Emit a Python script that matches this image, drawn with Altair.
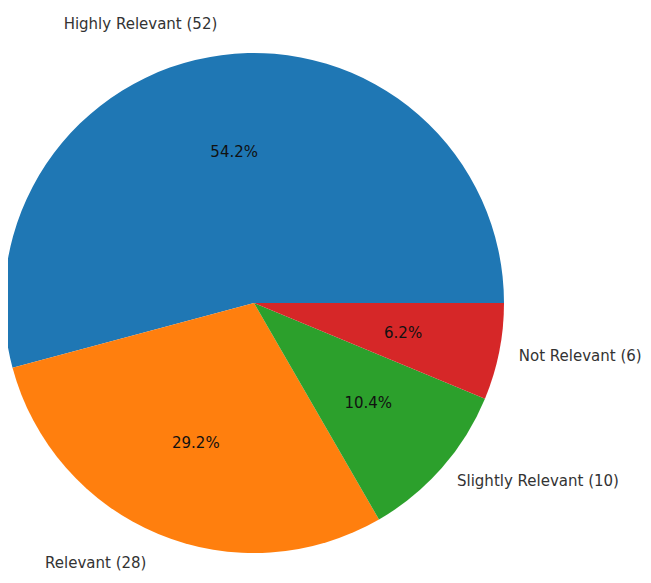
import math
import altair as alt
import pandas as pd

categories = ["Highly Relevant", "Relevant", "Slightly Relevant", "Not Relevant"]
counts = [52, 28, 10, 6]
colors = ["#1f77b4", "#ff7f0e", "#2ca02c", "#d62728"]
sides = ["left", "left", "right", "right"]
stack_order = [4, 3, 2, 1]

total = sum(counts)
pct_labels = [f"{c / total * 100:.1f}%" for c in counts]
name_labels = [f"{n} ({c})" for n, c in zip(categories, counts)]

df = pd.DataFrame({"category": categories, "count": counts,
                   "side": sides, "ord": stack_order,
                   "pct": pct_labels, "label": name_labels})

theta_scale = alt.Scale(range=[math.pi / 2, math.pi / 2 + 2 * math.pi])
color_scale = alt.Scale(domain=categories, range=colors)

CX, CY = 246, 295
R = 250
FONT = "DejaVu Sans"
FS = 15

base = alt.Chart(df).transform_calculate(
    labelL="datum.side == 'left' ? datum.label : ''",
    labelR="datum.side == 'right' ? datum.label : ''",
)

theta = alt.Theta("count:Q", stack=True, scale=theta_scale)
order = alt.Order("ord:Q", sort="ascending")

arcs = base.mark_arc(outerRadius=R).encode(
    theta=theta,
    order=order,
    color=alt.Color("category:N", scale=color_scale, legend=None),
    x=alt.value(CX),
    y=alt.value(CY),
)

pct_text = base.mark_text(font=FONT, fontSize=FS, color="#111",
                          align="center", baseline="middle").encode(
    theta=theta,
    order=order,
    radius=alt.value(152),
    text="pct:N",
    x=alt.value(CX),
    y=alt.value(CY),
)

left_text = base.mark_text(font=FONT, fontSize=FS, color="#333",
                           align="right", baseline="middle").encode(
    theta=theta,
    order=order,
    radius=alt.value(281),
    text="labelL:N",
    x=alt.value(CX),
    y=alt.value(CY),
)

right_text = base.mark_text(font=FONT, fontSize=FS, color="#333",
                            align="left", baseline="middle").encode(
    theta=theta,
    order=order,
    radius=alt.value(270),
    text="labelR:N",
    x=alt.value(CX),
    y=alt.value(CY),
)

chart = alt.layer(arcs, pct_text, left_text, right_text).properties(
    width=635, height=567,
    autosize=alt.AutoSizeParams(type="none"),
    padding=0,
).configure_view(stroke=None)

chart.save("out.html", embed_options={"renderer": "svg", "actions": False})
